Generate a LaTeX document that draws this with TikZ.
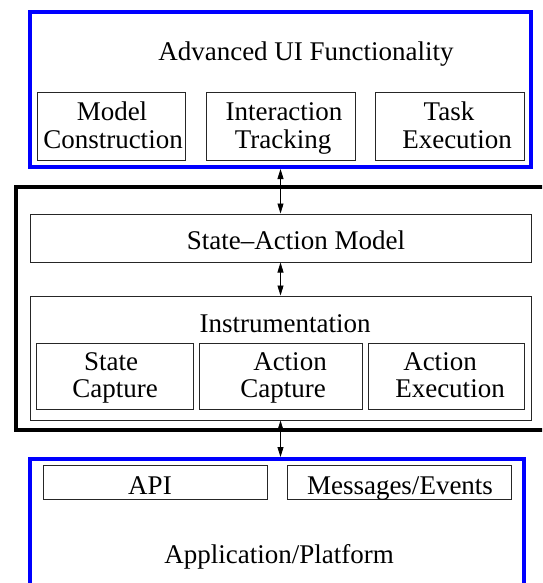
\documentclass[tikz,border=0pt]{standalone}
\usepackage{fontspec}
\setmainfont{Liberation Serif}
\usetikzlibrary{arrows.meta}
\begin{document}
\begin{tikzpicture}[x=1pt,y=-1pt,
  layer/.style={draw=blue, line width=4pt, inner sep=0pt},
  core/.style={draw=black, line width=4.5pt, inner sep=0pt},
  box/.style={draw=black!85, line width=1pt, inner sep=0pt},
  txt/.style={inner sep=0pt, anchor=base, font=\fontsize{27}{30}\selectfont},
  link/.style={line width=0.8pt,
    {Triangle[length=10pt,width=6pt]}-{Triangle[length=10pt,width=6pt]}}]
\clip (0,0) rectangle (542,583);

% upper layer: advanced UI functionality
\node[layer, minimum width=501pt, minimum height=155pt] (ui) at (280.5,89.5) {};
\node[txt] (uititle) at (306,61) {Advanced UI Functionality};
\node[box, minimum width=148pt, minimum height=67pt] (mc) at (111,126.5) {};
\node[box, minimum width=149pt, minimum height=67pt] (it) at (280.5,126.5) {};
\node[box, minimum width=149pt, minimum height=67pt] (te) at (449.5,126.5) {};
\node[txt] (mc1) at (112,121) {Model};
\node[txt] (mc2) at (113,148) {Construction};
\node[txt] (it1) at (284,121) {Interaction};
\node[txt] (it2) at (283,148) {Tracking};
\node[txt] (te1) at (449,121) {Task};
\node[txt] (te2) at (457,148) {Execution};

% middle layer: model and instrumentation
\node[core, minimum width=554pt, minimum height=243pt] (mid) at (293,308.5) {};
\node[box, minimum width=501pt, minimum height=48pt] (sam) at (280.5,238) {};
\node[txt] (samtext) at (296,249) {State--Action Model};
\node[box, minimum width=501pt, minimum height=124pt] (ins) at (280.5,358) {};
\node[txt] (instext) at (285,332) {Instrumentation};
\node[box, minimum width=157pt, minimum height=66pt] (sc) at (114.5,376) {};
\node[box, minimum width=163pt, minimum height=66pt] (ac) at (280.5,376) {};
\node[box, minimum width=156pt, minimum height=66pt] (ae) at (446,376) {};
\node[txt] (sc1) at (111,370) {State};
\node[txt] (sc2) at (115,397) {Capture};
\node[txt] (ac1) at (290,370) {Action};
\node[txt] (ac2) at (283,397) {Capture};
\node[txt] (ae1) at (440,370) {Action};
\node[txt] (ae2) at (450,397) {Execution};

% lower layer: application / platform
\node[layer, minimum width=494pt, minimum height=161pt] (app) at (277,539.5) {};
\node[box, minimum width=224pt, minimum height=34pt] (api) at (155,482) {};
\node[box, minimum width=224pt, minimum height=34pt] (msg) at (399,482) {};
\node[txt] (apitext) at (150,494) {API};
\node[txt] (msgtext) at (400,494) {Messages/Events};
\node[txt] (apptext) at (279,563) {Application/Platform};

% connectors between the layers
\draw[link] (ui.south) -- (sam.north);
\draw[link] (sam.south) -- (ins.north);
\draw[link] (ins.south) -- (ins.south |- app.north);
\end{tikzpicture}
\end{document}
